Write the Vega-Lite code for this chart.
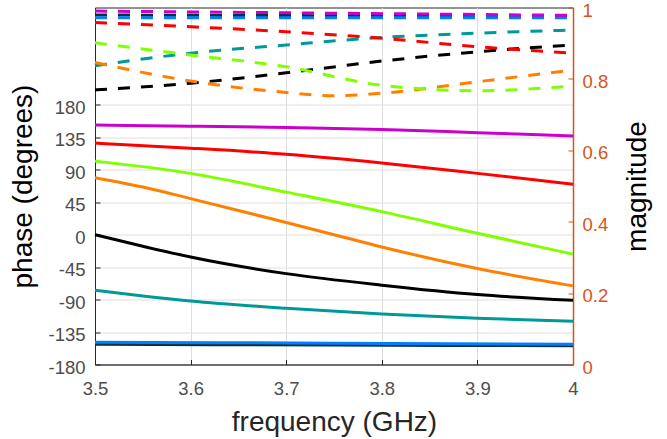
{
  "$schema": "https://vega.github.io/schema/vega-lite/v6.json",
  "autosize": "none",
  "width": 478,
  "height": 357,
  "padding": {"left": 95, "top": 7.5, "right": 94, "bottom": 74.5},
  "background": "white",
  "config": {
    "font": "Liberation Sans",
    "view": {"stroke": "#262626", "strokeWidth": 1}
  },
  "datasets": {
    "phase": [
      {"f": 3.5, "s": "dark", "v": -152}, {"f": 3.75, "s": "dark", "v": -153}, {"f": 4.0, "s": "dark", "v": -154},
      {"f": 3.5, "s": "blue", "v": -149}, {"f": 3.75, "s": "blue", "v": -150.5}, {"f": 4.0, "s": "blue", "v": -152},
      {"f": 3.5, "s": "teal", "v": -77}, {"f": 3.55, "s": "teal", "v": -85}, {"f": 3.6, "s": "teal", "v": -92}, {"f": 3.7, "s": "teal", "v": -102}, {"f": 3.8, "s": "teal", "v": -110}, {"f": 3.9, "s": "teal", "v": -116}, {"f": 4.0, "s": "teal", "v": -120},
      {"f": 3.5, "s": "black", "v": 0}, {"f": 3.55, "s": "black", "v": -16}, {"f": 3.6, "s": "black", "v": -31}, {"f": 3.7, "s": "black", "v": -54}, {"f": 3.8, "s": "black", "v": -70}, {"f": 3.9, "s": "black", "v": -83}, {"f": 4.0, "s": "black", "v": -91},
      {"f": 3.5, "s": "orange", "v": 79}, {"f": 3.55, "s": "orange", "v": 66}, {"f": 3.6, "s": "orange", "v": 50}, {"f": 3.7, "s": "orange", "v": 17}, {"f": 3.75, "s": "orange", "v": 0}, {"f": 3.8, "s": "orange", "v": -17}, {"f": 3.9, "s": "orange", "v": -47}, {"f": 4.0, "s": "orange", "v": -71},
      {"f": 3.5, "s": "green", "v": 102}, {"f": 3.6, "s": "green", "v": 85}, {"f": 3.7, "s": "green", "v": 59}, {"f": 3.8, "s": "green", "v": 32}, {"f": 3.9, "s": "green", "v": 2}, {"f": 4.0, "s": "green", "v": -27},
      {"f": 3.5, "s": "red", "v": 127}, {"f": 3.6, "s": "red", "v": 120}, {"f": 3.7, "s": "red", "v": 111.5}, {"f": 3.8, "s": "red", "v": 99.5}, {"f": 3.9, "s": "red", "v": 85}, {"f": 4.0, "s": "red", "v": 70},
      {"f": 3.5, "s": "magenta", "v": 152}, {"f": 3.6, "s": "magenta", "v": 150.5}, {"f": 3.7, "s": "magenta", "v": 148.5}, {"f": 3.8, "s": "magenta", "v": 146}, {"f": 3.9, "s": "magenta", "v": 141.5}, {"f": 4.0, "s": "magenta", "v": 137}
    ],
    "mag": [
      {"f": 3.5, "s": "dark", "v": 0.979}, {"f": 4.0, "s": "dark", "v": 0.975},
      {"f": 3.5, "s": "blue", "v": 0.971}, {"f": 4.0, "s": "blue", "v": 0.971},
      {"f": 3.5, "s": "teal", "v": 0.837}, {"f": 3.6, "s": "teal", "v": 0.872}, {"f": 3.7, "s": "teal", "v": 0.895}, {"f": 3.8, "s": "teal", "v": 0.916}, {"f": 3.9, "s": "teal", "v": 0.928}, {"f": 4.0, "s": "teal", "v": 0.937},
      {"f": 3.5, "s": "black", "v": 0.769}, {"f": 3.6, "s": "black", "v": 0.788}, {"f": 3.7, "s": "black", "v": 0.817}, {"f": 3.8, "s": "black", "v": 0.85}, {"f": 3.9, "s": "black", "v": 0.876}, {"f": 4.0, "s": "black", "v": 0.895},
      {"f": 3.5, "s": "orange", "v": 0.846}, {"f": 3.6, "s": "orange", "v": 0.794}, {"f": 3.7, "s": "orange", "v": 0.762}, {"f": 3.75, "s": "orange", "v": 0.753}, {"f": 3.8, "s": "orange", "v": 0.76}, {"f": 3.9, "s": "orange", "v": 0.792}, {"f": 4.0, "s": "orange", "v": 0.825},
      {"f": 3.5, "s": "green", "v": 0.901}, {"f": 3.6, "s": "green", "v": 0.867}, {"f": 3.7, "s": "green", "v": 0.834}, {"f": 3.8, "s": "green", "v": 0.782}, {"f": 3.9, "s": "green", "v": 0.767}, {"f": 4.0, "s": "green", "v": 0.78},
      {"f": 3.5, "s": "red", "v": 0.958}, {"f": 3.6, "s": "red", "v": 0.946}, {"f": 3.7, "s": "red", "v": 0.932}, {"f": 3.8, "s": "red", "v": 0.914}, {"f": 3.9, "s": "red", "v": 0.89}, {"f": 4.0, "s": "red", "v": 0.872},
      {"f": 3.5, "s": "magenta", "v": 0.99}, {"f": 4.0, "s": "magenta", "v": 0.978}
    ]
  },
  "encoding": {
    "x": {
      "field": "f", "type": "quantitative",
      "scale": {"domain": [3.5, 4.0], "nice": false, "zero": false},
      "axis": {
        "values": [3.5, 3.6, 3.7, 3.8, 3.9, 4.0], "format": "~g", "labelFlush": false,
        "title": "frequency (GHz)", "titleFontSize": 28, "titleFontWeight": "normal", "titleColor": "#262626", "titlePadding": 10,
        "labelFontSize": 18.5, "labelColor": "#4d4d4d", "labelPadding": 20,
        "domainColor": "#262626", "tickColor": "#262626", "tickSize": -5,
        "grid": true, "gridColor": "#dedede", "gridWidth": 1
      }
    },
    "color": {
      "field": "s", "type": "nominal", "legend": null,
      "scale": {
        "domain": ["dark", "blue", "teal", "black", "orange", "green", "red", "magenta"],
        "range": ["#00333d", "#0080ff", "#009999", "#000000", "#ff8000", "#80ff00", "#ff0000", "#cc00cc"]
      }
    }
  },
  "layer": [
    {
      "data": {"name": "phase"},
      "mark": {"type": "line", "strokeWidth": 3, "interpolate": "monotone"},
      "encoding": {
        "y": {
          "field": "v", "type": "quantitative",
          "scale": {"domain": [-180, 315], "nice": false, "zero": false},
          "axis": {
            "orient": "left",
            "values": [-180, -135, -90, -45, 0, 45, 90, 135, 180],
            "labelExpr": "datum.value + ''", "labelFlush": false, "labelOffset": 2.5,
            "title": "phase (degrees)", "titleFontSize": 28, "titleFontWeight": "normal", "titleColor": "#000000", "titlePadding": 10,
            "labelFontSize": 18.5, "labelColor": "#4d4d4d", "labelPadding": 15,
            "domainColor": "#262626", "tickColor": "#262626", "tickSize": -5,
            "grid": true, "gridColor": "#dedede", "gridWidth": 1
          }
        }
      }
    },
    {
      "data": {"name": "mag"},
      "mark": {"type": "line", "strokeWidth": 3, "strokeDash": [12, 11], "interpolate": "monotone"},
      "encoding": {
        "y": {
          "field": "v", "type": "quantitative",
          "scale": {"domain": [0, 1], "nice": false, "zero": false},
          "axis": {
            "orient": "right",
            "values": [0, 0.2, 0.4, 0.6, 0.8, 1], "format": "~g", "labelFlush": false, "labelOffset": 2.5,
            "title": "magnitude", "titleFontSize": 28, "titleFontWeight": "normal", "titleColor": "#000000", "titleAngle": -90, "titlePadding": 44,
            "labelFontSize": 18.5, "labelColor": "#d95319", "labelPadding": 14,
            "domainColor": "#d95319", "domainWidth": 1.5, "tickColor": "#d95319", "tickSize": -5,
            "grid": false
          }
        }
      }
    }
  ],
  "resolve": {"scale": {"y": "independent"}}
}
